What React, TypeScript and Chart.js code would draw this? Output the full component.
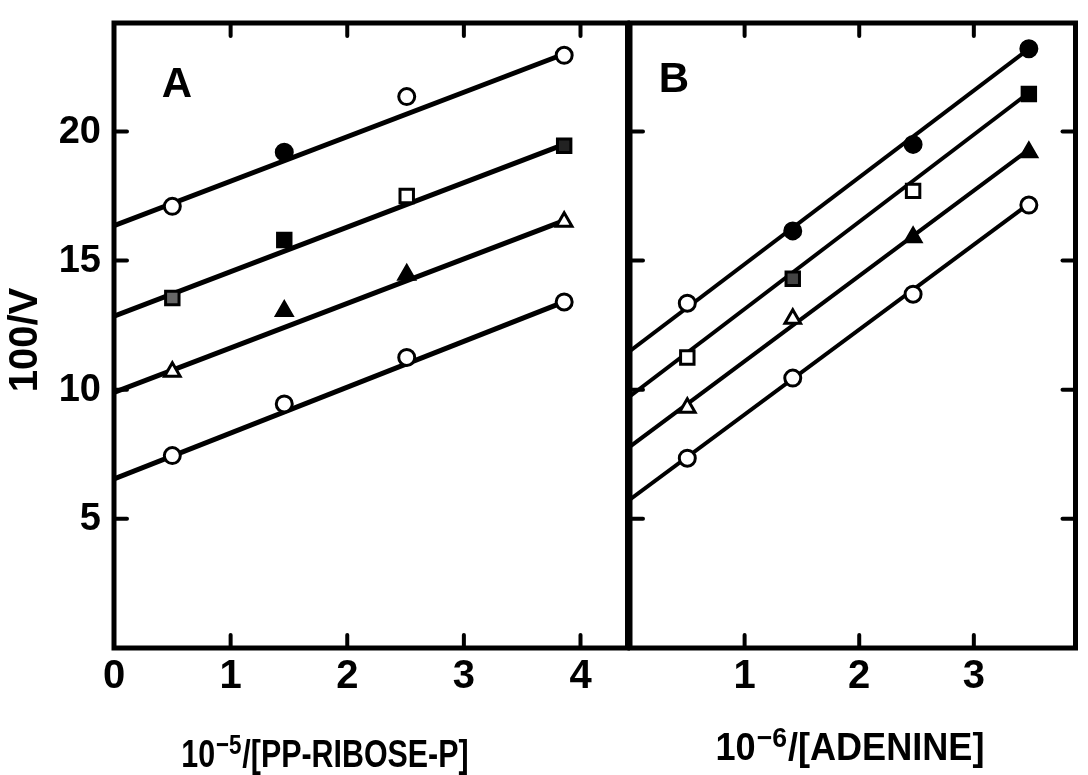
import React, { useEffect, useRef } from "react";
import { Chart, registerables } from "chart.js";

Chart.register(...registerables);

// ---------- data ----------
const yTickValues = [5, 10, 15, 20];
const yTickLabels = ["5", "10", "15", "20"];
const yMax = 24.2;

// Panel A : 10^-5 / [PP-ribose-P]
const xA = [0.5, 1.46, 2.51, 3.86];
const a1 = [17.1, 19.2, 21.35, 22.95];
const a2 = [13.55, 15.8, 17.5, 19.45];
const a3 = [10.7, 13.05, 14.45, 16.5];
const a4 = [7.45, 9.45, 11.25, 13.4];
const aLineStart = [16.35, 12.85, 9.9, 6.55];
const aLineEnd = [23.0, 19.5, 16.55, 13.4];
const xTickValuesA = [0, 1, 2, 3, 4];
const xTickLabelsA = ["0", "1", "2", "3", "4"];
const xMaxA = 4.403;

// Panel B : 10^-6 / [adenine]
const xB = [0.5, 1.42, 2.47, 3.48];
const b1 = [13.35, 16.15, 19.5, 23.2];
const b2 = [11.25, 14.3, 17.7, 21.45];
const b3 = [9.3, 12.75, 15.9, 19.2];
const b4 = [7.35, 10.45, 13.7, 17.15];
const bLineStart = [11.5, 9.75, 7.8, 5.75];
const bLineEnd = [23.2, 21.5, 19.3, 17.2];
const xTickValuesB = [1, 2, 3];
const xTickLabelsB = ["1", "2", "3"];
const xMaxB = 3.887;

const FONT = "'Liberation Sans', Arial, sans-serif";

type Panel = {
  letter: string;
  xs: number[];
  series: number[][];
  lineStart: number[];
  lineEnd: number[];
  xMax: number;
  xTickValues: number[];
  xTickLabels: string[];
  yLabels: boolean;
  rightTicks: boolean;
  styles: string[];
  fills: string[][];
  lineWidth: number;
  padding: { left: number; right: number; top: number; bottom: number };
  letterDx: number;
  letterDy: number;
  titleBase: string;
  titleExp: string;
  titleRest: string;
  titleCx: number;
  titleBaseline: number;
  titleScale: number;
};

function drawPowerTitle(
  ctx: CanvasRenderingContext2D,
  cx: number,
  baseline: number,
  base: string,
  exp: string,
  rest: string,
  sx: number
) {
  const mainFont = `bold 38px ${FONT}`;
  const supFont = `bold 28px ${FONT}`;
  ctx.font = mainFont;
  const w1 = ctx.measureText(base).width;
  const w3 = ctx.measureText(rest).width;
  ctx.font = supFont;
  const w2 = ctx.measureText(exp).width;
  const total = (w1 + w2 + w3 + 2) * sx;
  ctx.save();
  ctx.translate(cx - total / 2, baseline);
  ctx.scale(sx, 1);
  ctx.textAlign = "left";
  ctx.textBaseline = "alphabetic";
  ctx.font = mainFont;
  ctx.fillText(base, 0, 0);
  ctx.font = supFont;
  ctx.fillText(exp, w1 + 1, -13);
  ctx.font = mainFont;
  ctx.fillText(rest, w1 + w2 + 2, 0);
  ctx.restore();
}

function makeOverlay(p: Panel) {
  return {
    id: "overlay" + p.letter,
    afterDraw(chart: any) {
      const ctx: CanvasRenderingContext2D = chart.ctx;
      const { left, right, top, bottom } = chart.chartArea;
      const xs = chart.scales.x;
      const ys = chart.scales.y;
      const seg = (x1: number, y1: number, x2: number, y2: number) => {
        ctx.beginPath();
        ctx.moveTo(x1, y1);
        ctx.lineTo(x2, y2);
        ctx.stroke();
      };
      ctx.save();
      ctx.strokeStyle = "#000";
      ctx.fillStyle = "#000";
      // frame
      ctx.lineWidth = 5;
      ctx.lineCap = "square";
      ctx.strokeRect(left, top, right - left, bottom - top);
      // inward ticks
      ctx.lineWidth = 4;
      ctx.lineCap = "round";
      const tl = 13;
      p.xTickValues.forEach((v) => {
        if (v === 0) return;
        const x = xs.getPixelForValue(v);
        seg(x, top, x, top + tl);
        seg(x, bottom, x, bottom - tl);
      });
      yTickValues.forEach((v) => {
        const y = ys.getPixelForValue(v);
        seg(left, y, left + tl, y);
        if (p.rightTicks) seg(right, y, right - tl, y);
      });
      // x tick labels
      ctx.font = `bold 40px ${FONT}`;
      ctx.textAlign = "center";
      ctx.textBaseline = "middle";
      p.xTickLabels.forEach((t, i) => {
        ctx.fillText(t, xs.getPixelForValue(p.xTickValues[i]), bottom + 29);
      });
      // y tick labels + y title
      if (p.yLabels) {
        ctx.font = `bold 38px ${FONT}`;
        ctx.textAlign = "right";
        yTickLabels.forEach((t, i) => {
          ctx.fillText(t, left - 13, ys.getPixelForValue(yTickValues[i]) + 1);
        });
        ctx.save();
        ctx.translate(26, 340);
        ctx.rotate(-Math.PI / 2);
        ctx.textAlign = "center";
        ctx.font = `bold 40px ${FONT}`;
        ctx.fillText("100/V", 0, 0);
        ctx.restore();
      }
      // panel letter
      ctx.font = `bold 42px ${FONT}`;
      ctx.textAlign = "center";
      ctx.textBaseline = "middle";
      ctx.fillText(p.letter, left + p.letterDx, top + p.letterDy);
      // x title
      drawPowerTitle(
        ctx,
        p.titleCx,
        p.titleBaseline,
        p.titleBase,
        p.titleExp,
        p.titleRest,
        p.titleScale
      );
      ctx.restore();
    },
  };
}

function buildConfig(p: Panel): any {
  const lastX = p.xs[p.xs.length - 1];
  const lineSets = p.lineStart.map((s, i) => ({
    data: [
      { x: 0, y: s },
      { x: lastX, y: p.lineEnd[i] },
    ],
    showLine: true,
    borderColor: "#000",
    borderWidth: p.lineWidth,
    pointRadius: 0,
    order: 2,
  }));
  const pointSets = p.series.map((vals, i) => ({
    data: vals.map((v, j) => ({ x: p.xs[j], y: v })),
    showLine: false,
    pointStyle: p.styles[i],
    pointRadius: p.styles[i] === "rect" ? 9.5 : p.styles[i] === "triangle" ? 9 : 8,
    pointBackgroundColor: p.fills[i],
    pointBorderColor: "#000",
    pointBorderWidth: 3,
    order: 1,
  }));
  return {
    type: "scatter",
    data: { datasets: [...lineSets, ...pointSets] },
    options: {
      responsive: false,
      maintainAspectRatio: false,
      animation: false,
      devicePixelRatio: 1,
      layout: { padding: p.padding },
      plugins: { legend: { display: false }, tooltip: { enabled: false } },
      scales: {
        x: { type: "linear", min: 0, max: p.xMax, display: false },
        y: { type: "linear", min: 0, max: yMax, display: false },
      },
    },
    plugins: [makeOverlay(p)],
  };
}

const panelA: Panel = {
  letter: "A",
  xs: xA,
  series: [a1, a2, a3, a4],
  lineStart: aLineStart,
  lineEnd: aLineEnd,
  xMax: xMaxA,
  xTickValues: xTickValuesA,
  xTickLabels: xTickLabelsA,
  yLabels: true,
  rightTicks: false,
  styles: ["circle", "rect", "triangle", "circle"],
  fills: [
    ["#fff", "#000", "#fff", "#fff"],
    ["#666", "#000", "#fff", "#222"],
    ["#fff", "#000", "#000", "#fff"],
    ["#fff", "#fff", "#fff", "#fff"],
  ],
  lineWidth: 5,
  padding: { left: 114, right: 10, top: 23, bottom: 127 },
  letterDx: 63,
  letterDy: 62,
  titleBase: "10",
  titleExp: "−5",
  titleRest: "/[PP-RIBOSE-P]",
  titleCx: 325,
  titleBaseline: 767,
  titleScale: 0.8,
};

const panelB: Panel = {
  letter: "B",
  xs: xB,
  series: [b1, b2, b3, b4],
  lineStart: bLineStart,
  lineEnd: bLineEnd,
  xMax: xMaxB,
  xTickValues: xTickValuesB,
  xTickLabels: xTickLabelsB,
  yLabels: false,
  rightTicks: true,
  styles: ["circle", "rect", "triangle", "circle"],
  fills: [
    ["#fff", "#000", "#000", "#000"],
    ["#fff", "#444", "#fff", "#000"],
    ["#fff", "#fff", "#000", "#000"],
    ["#fff", "#fff", "#fff", "#fff"],
  ],
  lineWidth: 4,
  padding: { left: 30, right: 4, top: 23, bottom: 127 },
  letterDx: 44,
  letterDy: 57,
  titleBase: "10",
  titleExp: "−6",
  titleRest: "/[ADENINE]",
  titleCx: 250,
  titleBaseline: 760,
  titleScale: 0.95,
};

function PanelCanvas({ panel, left, width }: { panel: Panel; left: number; width: number }) {
  const ref = useRef<HTMLCanvasElement | null>(null);
  useEffect(() => {
    if (!ref.current) return;
    const chart = new Chart(ref.current, buildConfig(panel));
    return () => chart.destroy();
  }, [panel]);
  return (
    <canvas
      ref={ref}
      width={width}
      height={775}
      style={{ position: "absolute", left, top: 0, width, height: 775 }}
    />
  );
}

export default function App() {
  return (
    <div
      style={{
        position: "absolute",
        left: 0,
        top: 0,
        width: 1088,
        height: 775,
        background: "#fff",
        overflow: "hidden",
      }}
    >
      <PanelCanvas panel={panelA} left={0} width={640} />
      <PanelCanvas panel={panelB} left={600} width={488} />
    </div>
  );
}
